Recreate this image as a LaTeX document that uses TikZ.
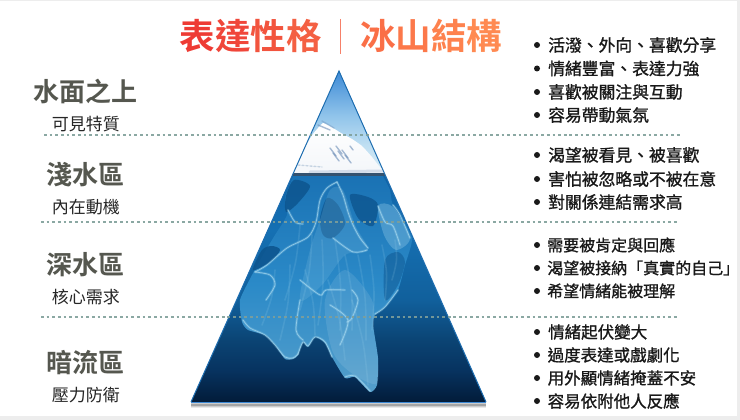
\documentclass[tikz,border=0pt]{standalone}
\usepackage{fontspec}
\newfontfamily\cjk{Noto Sans CJK TC}[BoldFont={Noto Sans CJK TC Bold}]
\newfontfamily\cjkmed{Noto Sans CJK TC}[FakeBold=1.1]
\usetikzlibrary{calc}
\definecolor{headgray}{HTML}{55574F}
\definecolor{dotline}{HTML}{7F9F9A}
\definecolor{edgeblue}{HTML}{1D6DB0}
\definecolor{ta}{HTML}{EE3B34}\definecolor{tb}{HTML}{F0463A}\definecolor{tc}{HTML}{F2543E}\definecolor{td}{HTML}{F46043}
\definecolor{te}{HTML}{FA6F47}\definecolor{tf}{HTML}{FC784A}\definecolor{tg}{HTML}{FE824E}\definecolor{th}{HTML}{FF8A52}
\definecolor{skyA}{HTML}{3D8AD6}\definecolor{skyB}{HTML}{8FC3EA}\definecolor{skyC}{HTML}{BFDFF2}\definecolor{skyD}{HTML}{DCEEF6}
\definecolor{seaA}{HTML}{0F62A6}\definecolor{seaB}{HTML}{1570B3}\definecolor{seaC}{HTML}{11609C}\definecolor{seaD}{HTML}{0B4474}\definecolor{seaE}{HTML}{073360}\definecolor{seaF}{HTML}{021B38}
\definecolor{iceA}{HTML}{1A72B4}\definecolor{iceB}{HTML}{2B8AC8}\definecolor{iceC}{HTML}{559FCB}
\definecolor{deep}{HTML}{0D558F}\definecolor{lit}{HTML}{A8DAF0}\definecolor{crev}{HTML}{6E8FB8}
\definecolor{wline}{HTML}{34526F}
\newcommand{\itemsz}{16.8}
\tikzset{
  headtext/.style={font=\cjk\bfseries\fontsize{26}{26}\selectfont,text=headgray,inner sep=0pt},
  subtext/.style={font=\cjk\fontsize{17}{17}\selectfont,text=black!85,inner sep=0pt},
  itemtext/.style={font=\cjkmed\fontsize{\itemsz}{17}\selectfont,text=black!90,anchor=west,inner sep=0pt},
  titletext/.style={font=\cjk\bfseries\fontsize{35.5}{36}\selectfont,inner sep=0pt},
  bulletdot/.style={circle,fill=black!90,minimum size=6pt,inner sep=0pt},
  dotrule/.style={draw=dotline,line width=2.8pt,dash pattern=on 2.7pt off 2.95pt,opacity=.9},
  veinA/.style={draw=lit,opacity=.25,line width=2.4pt,line cap=round,line join=round},
  veinB/.style={draw=lit,opacity=.75,line width=.7pt,line cap=round,line join=round},
  wisp/.style={draw=lit,opacity=.14,line width=1.6pt,line cap=round},
  crevasse/.style={draw=crev,opacity=.6,line width=1.4pt,line cap=round},
}
\newcommand{\vein}[1]{%
  \draw[veinA] plot[smooth,tension=.5] coordinates {#1};
  \draw[veinB] plot[smooth,tension=.5] coordinates {#1};}
\newcommand{\itemline}[4]{%
  \node[bulletdot] (d#1) at (537,#3) {};
  \node[itemtext] (t#1) at (#2,#3) {#4};}
\begin{document}
\begin{tikzpicture}[x=1pt,y=-1pt]
\useasboundingbox (0,0) rectangle (740,420);
\fill[black!7] (0,0) rectangle (740,420);
\fill[white] (0,1) rectangle (737,416);
\coordinate (apex) at (339,71);
\coordinate (bl) at (191,402);
\coordinate (br) at (486,402);
\foreach \w/\o in {5/.12,3.5/.18,2/.3}{
  \draw[black!70,opacity=\o,line width=\w pt] ($(bl)+(0,3)$) -- ($(br)+(0,3)$);}
\begin{scope}
\clip (apex) -- (bl) -- (br) -- cycle;
% sky
\shade[top color=skyA,bottom color=skyB] (150,71) rectangle (520,115);
\shade[top color=skyB,bottom color=skyC] (150,115) rectangle (520,145);
\shade[top color=skyC,bottom color=skyD] (150,145) rectangle (520,175);
% snow
\shade[top color=white,bottom color=white!92!crev]
 plot[smooth,tension=.25] coordinates {(285,175)(298,162)(303,150)(313,134)(323,123)(333,128)(341,133)(352,139)(362,146)(372,157)(380,167)(392,175)} -- cycle;
\foreach \a/\b in {330/148,336/146,342/150,333/153,338/151,345/155}{
  \draw[crevasse] (\a,\b) -- ++(6,8);}
\draw[crevasse] (318,125) -- (330,130);
\draw[crevasse,opacity=.4] (322,121) -- (334,128);
\draw[crevasse] (350,146) -- (353,150);
\draw[crevasse,opacity=.35,dash pattern=on 2pt off 2pt] (298,165) -- (322,167);
\draw[crevasse,opacity=.25,line width=3pt] (310,172) -- (385,171);
% water
\shade[top color=seaA,bottom color=seaB] (150,174) rectangle (520,230);
\shade[top color=seaB,bottom color=seaC] (150,230) rectangle (520,300);
\shade[top color=seaC,bottom color=seaD] (150,300) rectangle (520,340);
\shade[top color=seaD,bottom color=seaE] (150,340) rectangle (520,370);
\shade[top color=seaE,bottom color=seaF] (150,370) rectangle (520,403);
\fill[wline] (150,172.5) rectangle (520,175.5);
% ice body
\shade[top color=iceA,bottom color=iceC,middle color=iceB]
 plot[smooth,tension=.35] coordinates {(293,176)(285,198)(287,215)(275,235)(263,255)(252,275)(240,300)(242,322)(248,330)(265,335)(275,345)(285,359)(293,359)(298,355)(303,342)(308,347)(315,337)(325,343)(332,357)(345,378)(355,377)(370,392)(377,385)(378,358)(373,325)(375,315)(385,307)(398,290)(405,265)(412,237)(393,205)(390,190)(383,176)} -- cycle;
% recesses
\fill[deep,opacity=.85] plot[smooth cycle,tension=.5] coordinates {(294,180)(286,196)(286,212)(298,203)(310,186)};
\fill[deep,opacity=.7] plot[smooth cycle,tension=.5] coordinates {(327,198)(320,218)(323,235)(333,238)(345,224)(338,205)};
\fill[deep,opacity=.8] plot[smooth cycle,tension=.5] coordinates {(350,195)(358,218)(373,226)(378,205)(368,197)};
\fill[deep,opacity=.9] plot[smooth cycle,tension=.5] coordinates {(262,250)(253,270)(270,262)(280,250)(272,246)};
\fill[deep,opacity=.5] plot[smooth cycle,tension=.5] coordinates {(385,260)(398,252)(405,262)(398,285)(385,300)};
% lobes
\fill[lit,opacity=.3] plot[smooth cycle,tension=.5] coordinates {(378,206)(393,207)(410,238)(396,250)(384,235)};
\fill[lit,opacity=.15] plot[smooth cycle,tension=.5] coordinates {(330,190)(343,190)(355,225)(368,250)(345,255)(322,285)(300,300)(310,250)(320,220)};
\fill[white,opacity=.1] plot[smooth cycle,tension=.5] coordinates {(345,270)(372,300)(374,330)(378,360)(376,384)(350,372)(332,350)(325,300)};
% wisps
\foreach \a/\b/\c/\d in {300/225/285/300,312/235/300/310,322/240/318/325,335/240/340/330,345/255/352/330,358/255/366/340,370/255/372/330,382/245/385/300,395/240/392/280,275/270/262/325,290/265/280/340,305/270/315/335,328/280/345/360,352/300/368/385}{
  \draw[wisp] plot[smooth,tension=.6] coordinates {(\a,\b) ($(\a,\b)!.5!(\c,\d)+(3,0)$) (\c,\d)};}
% veins
\vein{(337,182)(327,188)(320,200)(316,222)(308,237)(287,248)(267,265)(255,272)}
\vein{(337,182)(343,195)(348,212)(353,225)(360,238)(368,248)}
\vein{(333,238)(353,252)(367,250)}
\vein{(378,206)(385,222)(393,226)(400,245)}
\vein{(393,205)(400,215)(410,238)}
\vein{(288,210)(295,222)(303,224)}
\vein{(255,272)(270,275)(275,285)(266,300)}
\vein{(243,320)(250,328)(265,335)(275,345)(285,357)(293,358)(298,354)}
\vein{(298,354)(303,342)(308,346)(315,337)(325,342)(332,357)}
\vein{(345,377)(355,376)(370,391)}
\vein{(300,300)(296,330)(303,340)}
\vein{(330,305)(348,320)(340,345)}
\vein{(352,290)(358,300)(352,318)(347,322)}
\vein{(300,280)(320,295)(326,290)(345,290)}
\vein{(375,314)(385,307)(398,290)}
\end{scope}
\draw[edgeblue,line width=1pt,line join=miter] (bl) -- (apex) -- (br);
\draw[skyA,line width=1pt] (bl) -- (br);
% dotted rules
\coordinate (r1a) at (44,135); \coordinate (r1b) at (680,135);
\coordinate (r2a) at (41,222); \coordinate (r2b) at (678,222);
\coordinate (r3a) at (41,317); \coordinate (r3b) at (678,317);
\draw[dotrule] (r1a) -- (r1b);
\draw[dotrule] (r2a) -- (r2b);
\draw[dotrule] (r3a) -- (r3b);
% title
\node[titletext] (titleL) at (250.5,36) {\textcolor{ta}{表}\textcolor{tb}{達}\textcolor{tc}{性}\textcolor{td}{格}};
\node[titletext] (titleR) at (431,36) {\textcolor{te}{冰}\textcolor{tf}{山}\textcolor{tg}{結}\textcolor{th}{構}};
\coordinate (barT) at (340.5,19); \coordinate (barB) at (340.5,54);
\draw[color=td!80!white,line width=1.3pt] (barT) -- (barB);
% left labels
\node[headtext] (h1) at (85.5,91) {水面之上};
\node[subtext] (s1) at (86,124) {可見特質};
\node[headtext] (h2) at (85.5,175) {淺水區};
\node[subtext] (s2) at (86,207) {內在動機};
\node[headtext] (h3) at (85.5,265) {深水區};
\node[subtext] (s3) at (86,297) {核心需求};
\node[headtext] (h4) at (85.5,363) {暗流區};
\node[subtext] (s4) at (86,395) {壓力防衛};
% right lists
\itemline{a}{548}{45}{活潑、外向、喜歡分享}
\itemline{b}{548}{68.5}{情緒豐富、表達力強}
\itemline{c}{548}{92}{喜歡被關注與互動}
\itemline{d}{548}{115}{容易帶動氣氛}
\itemline{e}{548}{155}{渴望被看見、被喜歡}
\itemline{f}{548}{179}{害怕被忽略或不被在意}
\itemline{g}{548}{202}{對關係連結需求高}
\renewcommand{\itemsz}{16}
\itemline{h}{547}{245}{需要被肯定與回應}
\itemline{i}{547}{268}{渴望被接納「真實的自己」}
\itemline{j}{547}{291}{希望情緒能被理解}
\renewcommand{\itemsz}{16.5}
\itemline{k}{548}{332}{情緒起伏變大}
\itemline{l}{547.5}{355}{過度表達或戲劇化}
\itemline{m}{547.5}{378}{用外顯情緒掩蓋不安}
\itemline{n}{547.5}{401}{容易依附他人反應}
\end{tikzpicture}
\end{document}
